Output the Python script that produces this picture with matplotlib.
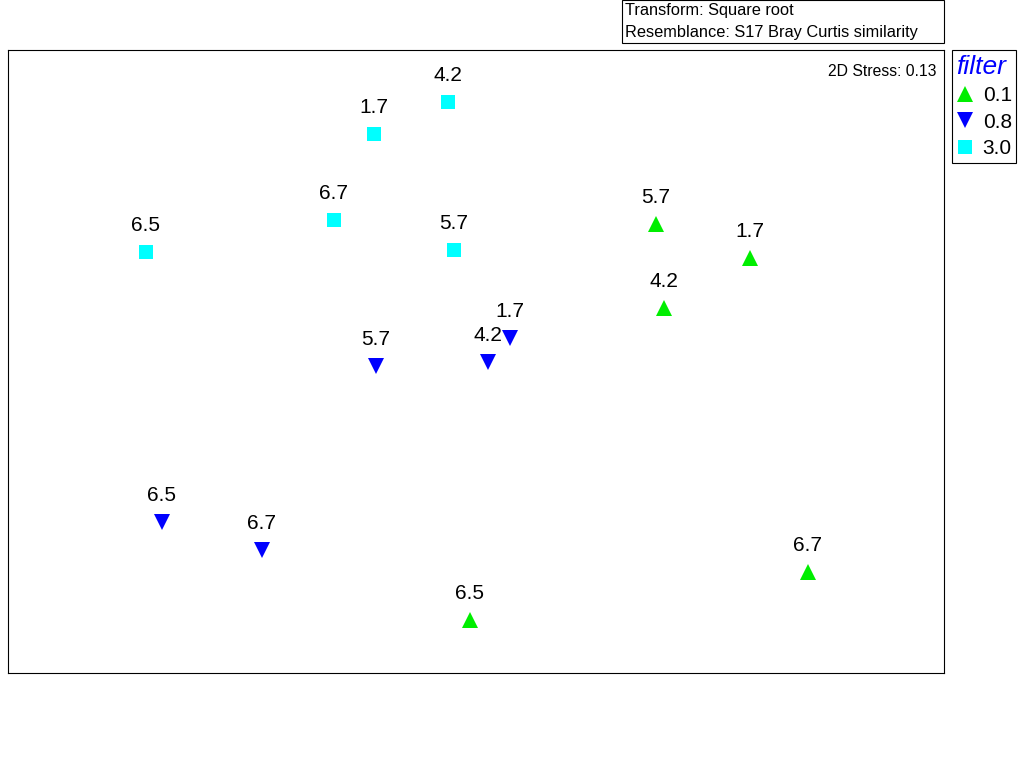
import matplotlib
matplotlib.use('Agg')
import matplotlib.pyplot as plt
from matplotlib.patches import Rectangle

plt.rcParams['font.family'] = ['Liberation Sans', 'DejaVu Sans']

# nMDS coordinates, grouped by filter
groups = ['0.1', '0.8', '3.0']
markers = ['^', 'v', 's']
colors = ['#00ee00', '#0000ff', '#00ffff']

x_01 = [0.90, 1.37, 0.94, 1.66, -0.03]
y_01 = [0.69, 0.52, 0.27, -1.05, -1.29]
lab_01 = ['5.7', '1.7', '4.2', '6.7', '6.5']

x_08 = [0.17, 0.06, -0.50, -1.57, -1.07]
y_08 = [0.12, 0.00, -0.02, -0.80, -0.94]
lab_08 = ['1.7', '4.2', '5.7', '6.5', '6.7']

x_30 = [-0.14, -0.51, -0.71, -1.65, -0.11]
y_30 = [1.30, 1.14, 0.71, 0.55, 0.56]
lab_30 = ['4.2', '1.7', '6.7', '6.5', '5.7']

xs = [x_01, x_08, x_30]
ys = [y_01, y_08, y_30]
labs = [lab_01, lab_08, lab_30]

W, H = 1024, 768
fig = plt.figure(figsize=(W / 100, H / 100), dpi=100)
ax = fig.add_axes([8 / W, 1 - 673 / H, 936 / W, 623 / H])

handles = []
for g, m, c, x, y, lab in zip(groups, markers, colors, xs, ys, labs):
    ms = 10 if m == 's' else 12
    h, = ax.plot(x, y, linestyle='none', marker=m, color=c, ms=ms,
                 markeredgewidth=0, label=g)
    handles.append(h)
    for xi, yi, t in zip(x, y, lab):
        ax.annotate(t, (xi, yi), xytext=(0, 12), textcoords='offset points',
                    ha='center', va='bottom', fontsize=15)

ax.set_xlim(-2.34, 2.34)
ax.set_ylim(-1.5575, 1.5575)
ax.set_xticks([])
ax.set_yticks([])
for s in ax.spines.values():
    s.set_linewidth(0.8)
    s.set_color('black')

ax.text(0.9915, 0.978, '2D Stress: 0.13', transform=ax.transAxes,
        ha='right', va='top', fontsize=11.3)

# header box
fig.add_artist(Rectangle((622 / W, 1 - 43 / H), 322 / W, 43 / H,
                         transform=fig.transFigure, fill=False,
                         edgecolor='black', linewidth=0.8))
fig.text(625 / W, 1 - 11 / H, 'Transform: Square root', ha='left',
         va='center', fontsize=11.8)
fig.text(625 / W, 1 - 32 / H, 'Resemblance: S17 Bray Curtis similarity',
         ha='left', va='center', fontsize=11.8)

leg = ax.legend(handles=handles, loc='upper left',
                bbox_to_anchor=(952 / W, 1 - 50 / H),
                bbox_transform=fig.transFigure, borderaxespad=0,
                title='filter', fontsize=15, fancybox=False,
                edgecolor='black', framealpha=1, handlelength=0.85,
                handletextpad=0.4, labelspacing=0.36, borderpad=0.22,
                alignment='left')
leg.get_frame().set_linewidth(0.8)
leg.get_title().set_fontsize(19)
leg.get_title().set_style('italic')
leg.get_title().set_color('#0000ff')

fig.savefig('out.png', dpi=100)
